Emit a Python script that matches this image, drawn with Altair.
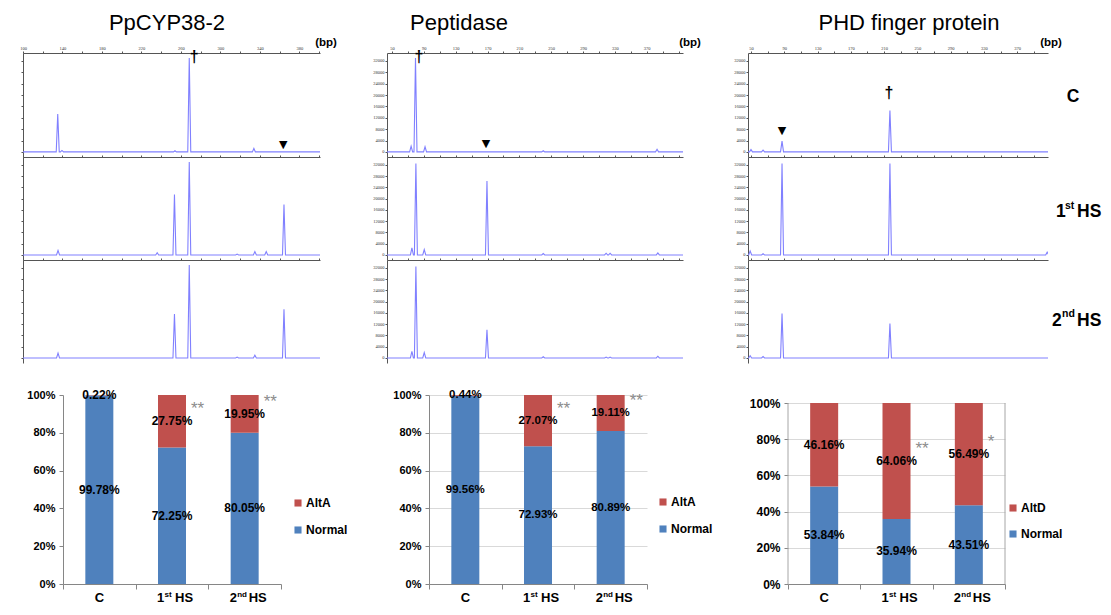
import altair as alt
import pandas as pd

FONT = "Liberation Sans"
TRACE = "#8080ff"
BLUE = "#4F81BD"
RED = "#C0504D"
AX = "#555555"

# ---------------- data ----------------
genes = ["PpCYP38-2", "Peptidase", "PHD finger protein"]
conditions = ["C", "1st HS", "2nd HS"]
cond_main = ["C", "1", "2"]
cond_sup = ["", "st", "nd"]
cond_tail = ["", "HS", "HS"]

# electropherogram size axis (bp) and signal axis
ep_domain = [[100, 401], [43.7, 415.6], [46.4, 407.0]]
ep_tick_first = [100, 50, 50]
ep_tick_last = [380, 370, 370]
rfu_domain = [-1800, 34800]
rfu_ticks = [0, 4000, 8000, 12000, 16000, 20000, 24000, 28000, 32000]

# peaks (size in bp, signal)
cyp_c_bp = [135.2, 139.5, 254.0, 268.5, 334.0]
cyp_c_rfu = [13300, 500, 400, 33000, 1200]
cyp_1_bp = [135.5, 236.0, 253.5, 268.5, 317.0, 335.0, 346.5, 364.5]
cyp_1_rfu = [1600, 800, 21500, 33000, 300, 1200, 1200, 17900]
cyp_2_bp = [135.5, 253.5, 268.5, 317.0, 335.0, 364.5]
cyp_2_rfu = [1700, 15600, 33000, 300, 1000, 17300]
pep_c_bp = [74.0, 79.5, 91.5, 240.0, 383.0]
pep_c_rfu = [2000, 33000, 1800, 400, 900]
pep_1_bp = [75.0, 80.0, 90.5, 169.3, 240.0, 319.0, 324.0, 384.0]
pep_1_rfu = [2500, 32500, 1900, 26300, 500, 600, 600, 700]
pep_2_bp = [75.0, 80.0, 90.5, 169.3, 240.0, 319.0, 324.0, 384.0]
pep_2_rfu = [2300, 32500, 1900, 10000, 400, 300, 300, 600]
phd_c_bp = [50.0, 64.5, 87.3, 217.0]
phd_c_rfu = [800, 600, 3800, 14600]
phd_1_bp = [49.0, 64.5, 87.3, 217.0, 406.0]
phd_1_rfu = [1400, 400, 32500, 32500, 1000]
phd_2_bp = [49.0, 64.5, 87.3, 217.0]
phd_2_rfu = [800, 500, 15800, 12200]

dagger_bp = [273.5, 84.0, 215.9]
dagger_rfu = [33400, 33400, 20700]
arrow_bp = [363.7, 168.1, 87.3]
arrow_rfu = [2460, 2800, 7400]

# stacked bar percentages
cyp_normal = [99.78, 72.25, 80.05]
cyp_alt = [0.22, 27.75, 19.95]
pep_normal = [99.56, 72.93, 80.89]
pep_alt = [0.44, 27.07, 19.11]
phd_normal = [53.84, 35.94, 43.51]
phd_alt = [46.16, 64.06, 56.49]
alt_names = ["AltA", "AltA", "AltD"]
cyp_stars = ["", "**", "**"]
pep_stars = ["", "**", "**"]
phd_stars = ["", "**", "*"]

traces = [
    [(cyp_c_bp, cyp_c_rfu), (cyp_1_bp, cyp_1_rfu), (cyp_2_bp, cyp_2_rfu)],
    [(pep_c_bp, pep_c_rfu), (pep_1_bp, pep_1_rfu), (pep_2_bp, pep_2_rfu)],
    [(phd_c_bp, phd_c_rfu), (phd_1_bp, phd_1_rfu), (phd_2_bp, phd_2_rfu)],
]
bars = [
    (cyp_normal, cyp_alt, cyp_stars),
    (pep_normal, pep_alt, pep_stars),
    (phd_normal, phd_alt, phd_stars),
]

# ---------------- layout ----------------
ROW0_H = 45
EP_W = [297, 296, 300]
EP_H = [104, 103, 103]
GAP_W = [15, 67, 65, 46]
BAR_W = [218, 218, 217]
BAR_H = [189, 189, 189]
BAR_FRAME_H = [189, 189, 181]
BAR_GAP_W = [55, 148, 141, 89]
BAR_TOP_GAP = 32
TITLE_X = [144, 72, 161]
PEAK_HALF_PX = 1.5
NO_FRAME = alt.ViewBackground(stroke="transparent", strokeWidth=0, strokeOpacity=0)


def spacer(w, h):
    return (
        alt.Chart(pd.DataFrame({"t": [" "]}))
        .mark_text(align="left", baseline="top", fontSize=2, color="white")
        .encode(x=alt.value(0), y=alt.value(0), text="t:N")
        .properties(width=w, height=h, view=NO_FRAME)
    )


def title_cell(g):
    t = (
        alt.Chart(pd.DataFrame({"t": [genes[g]]}))
        .mark_text(font=FONT, fontSize=22, align="center", baseline="middle", color="black")
        .encode(x=alt.value(TITLE_X[g]), y=alt.value(15), text="t:N")
    )
    bp = (
        alt.Chart(pd.DataFrame({"t": ["(bp)"]}))
        .mark_text(font=FONT, fontSize=11.5, fontWeight="bold", align="center",
                   baseline="middle", color="black")
        .encode(x=alt.value(303), y=alt.value(35), text="t:N")
    )
    return alt.layer(t, bp).properties(width=EP_W[g], height=ROW0_H, view=NO_FRAME)


def ep_panel(g, k):
    bps, rfus = traces[g][k]
    dom = ep_domain[g]
    hw = PEAK_HALF_PX * (dom[1] - dom[0]) / EP_W[g]
    pts = [(dom[0], 0)]
    for b, r in sorted(zip(bps, rfus)):
        pts += [(b - hw, 0), (b, r), (b + hw, 0)]
    pts.append((max(dom[1], pts[-1][0] + 0.1), 0))
    df = pd.DataFrame(pts, columns=["bp", "rfu"])
    df["seq"] = range(len(df))

    first = ep_tick_first[g]
    ticks = list(range(first, int(dom[1]) + 1, 20))
    lab_expr = (f"(datum.value - {first}) % 40 == 0 && datum.value <= {ep_tick_last[g]}"
                " ? datum.label : ''")
    xaxis = alt.Axis(orient="top", values=ticks, labelExpr=lab_expr, labels=(k == 0),
                     title=None, tickSize=2, domainColor=AX, tickColor=AX,
                     labelFont="Liberation Serif", labelFontSize=4.5, labelPadding=1,
                     labelColor="#333333", grid=False, labelFlush=False,
                     labelOverlap=False, format="d")
    yaxis = alt.Axis(values=rfu_ticks, labels=(g > 0), title=None, tickSize=2,
                     domainColor=AX, tickColor=AX, labelFont="Liberation Serif",
                     labelFontSize=4.5, labelPadding=1, labelColor="#333333",
                     grid=False, labelOverlap=False, format="d")
    x = alt.X("bp:Q", scale=alt.Scale(domain=dom, nice=False, zero=False), axis=xaxis)
    y = alt.Y("rfu:Q", scale=alt.Scale(domain=rfu_domain, nice=False, zero=False), axis=yaxis)

    line = alt.Chart(df).mark_line(color=TRACE, strokeWidth=1.1, clip=True).encode(
        x=x, y=y, order="seq:Q")
    layers = [line]
    if k == 0:
        dag = (
            alt.Chart(pd.DataFrame({"bp": [dagger_bp[g]], "rfu": [dagger_rfu[g]], "t": ["\u2020"]}))
            .mark_text(font=FONT, fontSize=16, fontWeight="bold", color="black",
                       baseline="middle")
            .encode(x=x, y=y, text="t:N")
        )
        arr = (
            alt.Chart(pd.DataFrame({"bp": [arrow_bp[g]], "rfu": [arrow_rfu[g]], "t": ["\u25bc"]}))
            .mark_text(font="DejaVu Sans", fontSize=11, color="black", baseline="middle")
            .encode(x=x, y=y, text="t:N")
        )
        layers += [dag, arr]
    return alt.layer(*layers).properties(width=EP_W[g], height=EP_H[k], view=NO_FRAME)


def cond_label_cell(k, h):
    specs = {
        0: [("C", 25, 44, 17.5, "center", "middle")],
        1: [("1", 8, 60, 17.5, "left", "alphabetic"), ("st", 17, 52, 10.5, "left", "alphabetic"),
            ("HS", 29, 60, 17.5, "left", "alphabetic")],
        2: [("2", 4, 65.5, 17.5, "left", "alphabetic"), ("nd", 14, 57, 10.5, "left", "alphabetic"),
            ("HS", 29, 65.5, 17.5, "left", "alphabetic")],
    }[k]
    layers = []
    for txt, xx, yy, fs, al, bl in specs:
        layers.append(
            alt.Chart(pd.DataFrame({"t": [txt]}))
            .mark_text(font=FONT, fontSize=fs, fontWeight="bold", align=al, baseline=bl,
                       color="black")
            .encode(x=alt.value(xx), y=alt.value(yy), text="t:N")
        )
    return alt.layer(*layers).properties(width=GAP_W[3], height=h, view=NO_FRAME)


def bar_panel(g):
    normal, altv, stars = bars[g]
    name = alt_names[g]
    h = BAR_H[g]
    w = BAR_W[g]
    ymax = 100.0 * BAR_H[g] / BAR_FRAME_H[g]
    df = pd.DataFrame({
        "cat": conditions * 2,
        "type": ["Normal"] * 3 + [name] * 3,
        "pct": normal + altv,
        "ord": [0] * 3 + [1] * 3,
        "star": [""] * 3 + stars,
    })
    base = (
        alt.Chart(df)
        .transform_stack(stack="pct", groupby=["cat"], as_=["y0", "y1"],
                         sort=[alt.SortField(field="ord", order="ascending")])
        .transform_calculate(mid="(datum.y0 + datum.y1) / 2",
                             lab="format(datum.pct, '.2f') + '%'")
    )
    lab_fs = 12 if g == 2 else 11
    xaxis = alt.Axis(title=None, labels=False, tickBand="extent", tickSize=5,
                     domainColor="#868686", tickColor="#868686", grid=False)
    x = alt.X("cat:N", sort=conditions,
              scale=alt.Scale(domain=conditions, paddingInner=0, paddingOuter=0), axis=xaxis)
    yaxis = alt.Axis(values=[0, 20, 40, 60, 80, 100], labelExpr="datum.value + '%'",
                     title=None, tickSize=4, labelPadding=4, domainColor="#868686",
                     domain=(g != 2),
                     tickColor="#868686", labelFont=FONT, labelFontSize=lab_fs,
                     labelFontWeight="bold", labelColor="black",
                     grid=(g > 0), gridColor="#d9d9d9")
    ys = alt.Scale(domain=[0, ymax], nice=False, zero=True)

    legend = alt.Legend(orient="none", legendX=[229, 228, 219][g], legendY=[102, 101, 107][g],
                        title=None, symbolType="square", symbolSize=50,
                        symbolStrokeWidth=0, labelFont=FONT, labelFontSize=12,
                        labelFontWeight="bold", labelColor="black",
                        rowPadding=[15, 15, 14][g], labelOffset=2, padding=0)
    bar = base.mark_bar(width=28).encode(
        x=x,
        y=alt.Y("y0:Q", scale=ys, axis=yaxis),
        y2="y1:Q",
        color=alt.Color("type:N", scale=alt.Scale(domain=[name, "Normal"], range=[RED, BLUE]),
                        legend=legend),
    )
    txt = base.mark_text(font=FONT, fontSize=[12, 11.5, 12][g], fontWeight="bold",
                         color="black", baseline="middle").encode(
        x=x, y=alt.Y("mid:Q", scale=ys, axis=yaxis), text="lab:N")
    st = base.transform_filter("datum.star != ''").mark_text(
        font=FONT, fontSize=17, color="#8c8c8c", align="left", baseline="middle",
        dx=19, dy=-12).encode(x=x, y=alt.Y("mid:Q", scale=ys, axis=yaxis), text="star:N")

    layers = [bar, txt, st]
    if g == 2:
        frame = pd.DataFrame({"lo": [0], "hi": [100]})
        for xv in (0, w):
            layers.append(
                alt.Chart(frame).mark_rule(color="#a6a6a6", strokeWidth=1).encode(
                    x=alt.value(xv), y=alt.Y("lo:Q", scale=ys, axis=yaxis), y2="hi:Q")
            )
    cat_df = pd.DataFrame({"cat": conditions, "main": cond_main, "sup": cond_sup,
                           "tail": cond_tail})
    piece_dx = {
        "C": [("main", 0, 13, "center", 0)],
        "1st HS": [("main", -15, 13, "left", 0), ("sup", -7.5, 8, "left", -5),
                   ("tail", 3, 13, "left", 0)],
        "2nd HS": [("main", -15, 13, "left", 0), ("sup", -7.5, 8, "left", -5),
                   ("tail", 4, 13, "left", 0)],
    }
    for c in conditions:
        for fld, dx, fs, al, dy in piece_dx[c]:
            layers.append(
                alt.Chart(cat_df)
                .transform_filter(alt.datum.cat == c)
                .mark_text(font=FONT, fontSize=fs, fontWeight="bold", color="black",
                           align=al, baseline="alphabetic", dx=dx, dy=dy)
                .encode(x=x, y=alt.value(h + 18), text=f"{fld}:N")
            )
    return alt.layer(*layers).properties(width=w, height=h, view=NO_FRAME)


top_cells = []
top_cells += [spacer(GAP_W[0], ROW0_H), title_cell(0), spacer(GAP_W[1], ROW0_H), title_cell(1),
              spacer(GAP_W[2], ROW0_H), title_cell(2), spacer(GAP_W[3], ROW0_H)]
for k in range(3):
    hk = EP_H[k]
    top_cells += [spacer(GAP_W[0], hk), ep_panel(0, k), spacer(GAP_W[1], hk), ep_panel(1, k),
                  spacer(GAP_W[2], hk), ep_panel(2, k), cond_label_cell(k, hk)]
top = alt.concat(*top_cells, columns=7, spacing=0, bounds="flush")

bottom_cells = []
widths = [BAR_GAP_W[0], BAR_W[0], BAR_GAP_W[1], BAR_W[1], BAR_GAP_W[2], BAR_W[2], BAR_GAP_W[3]]
bottom_cells += [spacer(wd, BAR_TOP_GAP) for wd in widths]
bottom_cells += [spacer(BAR_GAP_W[0], 180), bar_panel(0), spacer(BAR_GAP_W[1], 180), bar_panel(1),
                 spacer(BAR_GAP_W[2], 180), bar_panel(2), spacer(BAR_GAP_W[3], 180)]
bottom = (
    alt.concat(*bottom_cells, columns=7, spacing=0, bounds="flush")
    .resolve_scale(color="independent")
    .resolve_legend(color="independent")
)

chart = (
    alt.vconcat(top, bottom, spacing=0)
    .resolve_scale(color="independent")
    .resolve_legend(color="independent")
    .properties(padding=0, background="white")
    .configure(
        font=FONT,
        view=alt.ViewConfig(stroke="transparent", strokeWidth=0),
        style={"cell": {"stroke": "transparent", "strokeWidth": 0}},
    )
)

chart.save("out.html", embed_options={"renderer": "svg", "actions": False})
